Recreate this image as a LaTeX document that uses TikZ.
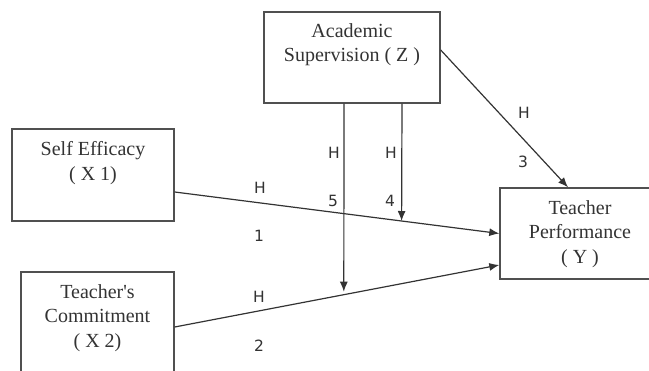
\documentclass[tikz,border=0pt]{standalone}
\usepackage{fontspec}
\setmainfont{Liberation Serif}
\newfontfamily\hfont{DejaVu Sans}
\usetikzlibrary{arrows.meta,positioning}
\definecolor{boxgray}{HTML}{505050}
\definecolor{inkgray}{HTML}{333333}
\tikzset{
  varbox/.style={draw=boxgray, line width=1.4pt, rectangle, inner sep=0pt},
  vartext/.style={align=center, inner sep=0pt, text=inkgray,
    font=\fontsize{20}{24.5}\selectfont},
  hypo/.style={text=inkgray, inner sep=0pt, font=\hfont\fontsize{15.5}{17}\selectfont},
  path/.style={draw=inkgray, line width=1.2pt, -{Latex[length=10pt,width=8pt]}}
}
\begin{document}
\begin{tikzpicture}[x=1pt,y=-1pt]
    \useasboundingbox (0,0) rectangle (649,371);
    % variables
    \node[varbox, minimum width=176pt, minimum height=91pt] (Z) at (352,57.5) {};
    \node[varbox, minimum width=162pt, minimum height=92pt] (X1) at (93,175) {};
    \node[varbox, minimum width=153pt, minimum height=120pt] (X2) at (97.5,332) {};
    \node[varbox, minimum width=160pt, minimum height=91pt] (Y) at (580,233.5) {};
    \node[vartext, below=12pt of Z.north] {Academic\\Supervision ( Z )};
    \node[vartext, below=13pt of X1.north] {Self Efficacy\\( X 1)};
    \node[vartext, below=13pt of X2.north] {Teacher\textquotesingle s\\Commitment\\( X 2)};
    \node[vartext, below=13pt of Y.north] {Teacher\\Performance\\( Y )};
    % direct paths
    \draw[path] ([yshift=-17pt]X1.east) -- coordinate[pos=0.699] (m1) (Y.west);
    \draw[path] ([yshift=5pt]X2.east) -- coordinate[pos=0.521] (m2) ([yshift=-31.5pt]Y.west);
    \draw[path] ([yshift=7.5pt]Z.east) -- ([xshift=-12pt]Y.north);
    % moderation
    \draw[path] ([xshift=50pt]Z.south) -- (m1);
    \draw[path, shorten >=3pt] ([xshift=-8pt]Z.south) -- (m2);
    % labels
    \node[hypo] (h1) at (260,188) {H}; \node[hypo] (n1) at (259,236) {1};
    \node[hypo] (h2) at (259,297) {H}; \node[hypo] (n2) at (259,346) {2};
    \node[hypo] (h3) at (524,113) {H}; \node[hypo] (n3) at (523,162) {3};
    \node[hypo] (h4) at (391,153) {H}; \node[hypo] (n4) at (390,201) {4};
    \node[hypo] (h5) at (334,153) {H}; \node[hypo] (n5) at (333,201) {5};
  \end{tikzpicture}
\end{document}
